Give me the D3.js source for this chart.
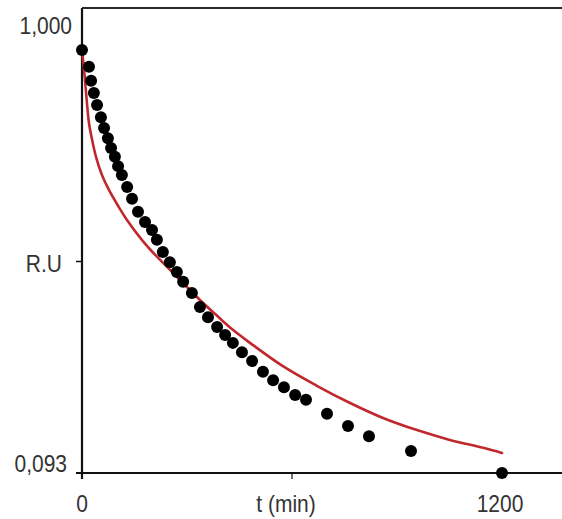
<!DOCTYPE html>
<html>
<head>
<meta charset="utf-8">
<script src="https://cdn.jsdelivr.net/npm/d3@7"></script>
<style>
  html, body { margin: 0; padding: 0; background: #fff; }
  svg { display: block; }
  text { font-family: "Liberation Sans", Arial, sans-serif; fill: #333; }
</style>
</head>
<body>
<svg id="chart" width="562" height="519"></svg>
<script>
// ---- data ----
const obsTime = [0, 20, 26, 34, 43, 54, 63, 74, 83, 94, 103, 114, 129, 143, 160, 180, 200, 214, 231, 251,
                 271, 289, 314, 337, 360, 386, 409, 431, 457, 486, 517, 546, 577, 609, 640, 700, 760, 820, 940, 1200];
const obsValue = [1.000, 0.964, 0.934, 0.908, 0.882, 0.856, 0.833, 0.811, 0.790, 0.771, 0.751, 0.732, 0.706, 0.681,
                  0.653, 0.631, 0.614, 0.593, 0.567, 0.545, 0.524, 0.503, 0.479, 0.449, 0.427, 0.406, 0.389, 0.372,
                  0.352, 0.333, 0.310, 0.292, 0.277, 0.260, 0.250, 0.220, 0.194, 0.172, 0.140, 0.093];
const fitTime = [0, 6, 11, 20, 29, 40, 57, 77, 103, 129, 171, 210, 243, 289, 337, 386, 431, 480, 574, 671, 766, 860, 957, 1051, 1146, 1200];
const fitValue = [1.000, 0.957, 0.914, 0.843, 0.807, 0.771, 0.732, 0.700, 0.666, 0.635, 0.593, 0.560, 0.535, 0.500,
                  0.464, 0.430, 0.400, 0.372, 0.322, 0.280, 0.243, 0.211, 0.185, 0.164, 0.147, 0.136];
const yTickValues = [0.093, 0.5465, 1.000];
const yTickLabels = ["0,093", "R.U", "1,000"];
const xTickValues = [0, 600, 1200];
const xTickLabels = ["0", "t (min)", "1200"];

// ---- layout ----
const svg = d3.select("#chart");
const x = d3.scaleLinear().domain([0, 1200]).range([82, 502]);
const y = d3.scaleLinear().domain([0.093, 1.0]).range([473, 50]);
const xMax = x.invert(562);
const yTop = y.invert(8);

// top frame line
svg.append("line")
  .attr("x1", x(0)).attr("x2", x(xMax))
  .attr("y1", y(yTop)).attr("y2", y(yTop))
  .attr("stroke", "#2a2a2a").attr("stroke-width", 2);

// left axis
svg.append("line")
  .attr("x1", x(0)).attr("x2", x(0))
  .attr("y1", y(yTop)).attr("y2", y(0.093) + 6)
  .attr("stroke", "#111").attr("stroke-width", 2.2);
// bottom axis
svg.append("line")
  .attr("x1", x(0) - 6).attr("x2", x(xMax))
  .attr("y1", y(0.093)).attr("y2", y(0.093))
  .attr("stroke", "#111").attr("stroke-width", 2.2);

// y ticks
svg.selectAll(".ytick").data(yTickValues.slice(0, 2)).enter().append("line")
  .attr("x1", x(0) - 6).attr("x2", x(0))
  .attr("y1", d => y(d)).attr("y2", d => y(d))
  .attr("stroke", "#111").attr("stroke-width", 1.5);
// x ticks
svg.selectAll(".xtick").data(xTickValues).enter().append("line")
  .attr("x1", d => x(d)).attr("x2", d => x(d))
  .attr("y1", y(0.093)).attr("y2", y(0.093) + 6)
  .attr("stroke", "#111").attr("stroke-width", 1.2);

// y tick labels
const yLabelOffsets = [-10, 2, -25];
const yLabelX = [67, 62, 72];
svg.selectAll(".ylab").data(yTickValues).enter().append("text")
  .attr("transform", (d, i) => `translate(${yLabelX[i]},${y(d) + yLabelOffsets[i]}) scale(1,1.18)`)
  .attr("text-anchor", "end")
  .attr("dy", "0.36em")
  .attr("font-size", 21)
  .text((d, i) => yTickLabels[i]);

// x tick labels
const xLabelShift = [0, -6, -2];
svg.selectAll(".xlab").data(xTickValues).enter().append("text")
  .attr("transform", (d, i) => `translate(${x(d) + xLabelShift[i]},503) scale(1,1.18)`)
  .attr("text-anchor", "middle")
  .attr("dy", "0.36em")
  .attr("font-size", 21)
  .text((d, i) => xTickLabels[i]);

// fitted curve
const fitData = fitTime.map((t, i) => [t, fitValue[i]]);
svg.append("path")
  .datum(fitData)
  .attr("fill", "none")
  .attr("stroke", "#c0282e")
  .attr("stroke-width", 2.6)
  .attr("stroke-linecap", "round")
  .attr("d", d3.line().x(d => x(d[0])).y(d => y(d[1])).curve(d3.curveCatmullRom.alpha(0.5)));

// observed points
const obsData = obsTime.map((t, i) => [t, obsValue[i]]);
svg.selectAll(".pt").data(obsData).enter().append("circle")
  .attr("cx", d => x(d[0])).attr("cy", d => y(d[1]))
  .attr("r", 6)
  .attr("fill", "#000");
</script>
</body>
</html>
